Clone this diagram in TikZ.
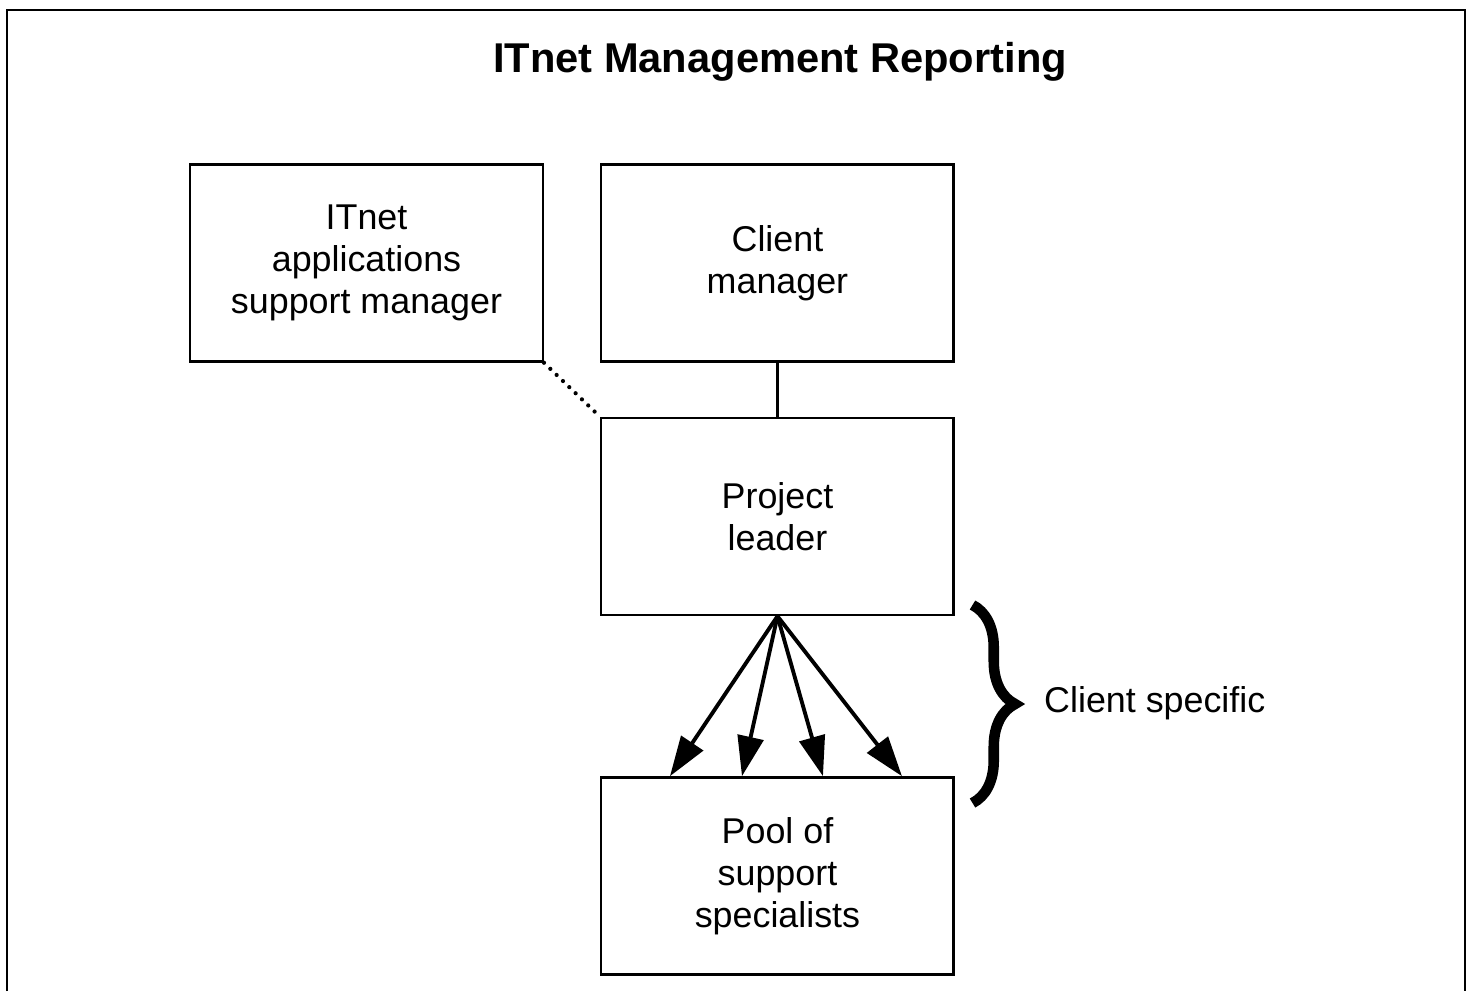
\documentclass[tikz,border=0pt]{standalone}
\usepackage{fontspec}
\setmainfont{Liberation Sans}
\usetikzlibrary{positioning,arrows.meta,decorations.pathreplacing}

\begin{document}
\begin{tikzpicture}[node distance=1.08cm and 1.12cm, box/.style={rectangle, draw, line width=1.4pt, minimum width=7.05cm, minimum height=3.94cm, inner sep=0pt, align=center, font=\fontsize{20.4}{23.8}\selectfont}]
	\useasboundingbox (0,0) rectangle (29.36,-19.82);
	% open frame round the chart
	\draw[line width=1.1pt] (0.14,-19.82) -- (0.14,-0.2) -- (29.3,-0.2) -- (29.3,-19.82);
	\node (title) at (15.6,-1.24) {\fontsize{23.7}{28}\selectfont\bfseries ITnet Management Reporting};
	\node (apps) [box] at (7.33,-5.26) {ITnet\\applications\\support manager};
	\node (client) [right=of apps,box] {Client\\manager};
	\node (leader) [below=of client,box] {Project\\leader};
	\node (pool) [below=3.2cm of leader,box] {Pool of\\support\\specialists};
	\draw[line width=1.4pt] (client.south) -- (leader.north);
	\draw[line width=2.4pt, line cap=round, dash pattern=on 0pt off 5pt] (apps.south east) -- (leader.north west);
	\foreach \dx in {-2.15,-0.71,0.91,2.49}
		\draw[line width=2.2pt, -{Triangle[length=0.8cm,width=0.52cm]}] (leader.south) -- ([xshift=\dx cm] pool.north);
	% brace beside the arrows
	\coordinate (bracetop) at (19.45,-12.1);
	\coordinate (bracebot) at (19.45,-16.06);
	\draw[line width=6pt, decorate, decoration={brace, amplitude=0.85cm}] (bracetop) -- (bracebot);
	\node (specific) [anchor=west, font=\fontsize{20.4}{23.8}\selectfont] at (20.76,-14.06) {Client specific};
\end{tikzpicture}
\end{document}
